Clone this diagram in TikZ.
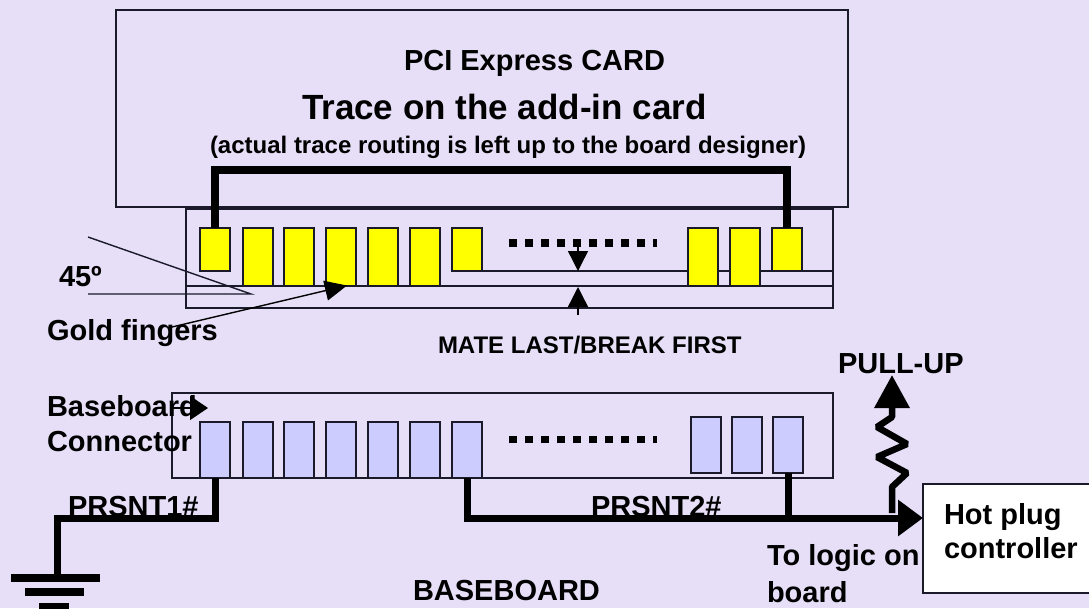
\documentclass[tikz,border=0pt]{standalone}
\usepackage{fontspec}
\setmainfont{Liberation Sans}
\usetikzlibrary{arrows.meta}
\definecolor{bgc}{HTML}{E6DFF7}
\definecolor{fingb}{HTML}{CCCCFF}
\definecolor{fingy}{RGB}{255,255,0}
\definecolor{edgec}{HTML}{1A1A2A}
\tikzset{
  boxr/.style={draw=edgec,line width=1.4pt,inner sep=0pt,outer sep=0pt,anchor=north west},
  yfing/.style={boxr,fill=fingy,line width=1.6pt},
  bfing/.style={boxr,fill=fingb,line width=1.6pt},
  wire/.style={line width=7pt,black},
  thin line/.style={draw=edgec,line width=1.4pt},
  lbl/.style={inner sep=0pt,outer sep=0pt,anchor=base west,font=\bfseries\fontsize{#1}{#1}\selectfont,text=black},
  bar/.style={fill=black,inner sep=0pt,outer sep=0pt,anchor=north west},
}
\begin{document}
\begin{tikzpicture}[x=1pt,y=-1pt]
\useasboundingbox (0,0) rectangle (1089,608);
\fill[bgc] (0,0) rectangle (1089,608);
% card and connector outlines
\node[boxr,minimum width=732pt,minimum height=197pt] (card) at (116,10) {};
\node[boxr,minimum width=647pt,minimum height=99pt] (edge) at (186,209) {};
\node[boxr,minimum width=661pt,minimum height=85pt] (conn) at (172,393) {};
% contact lines
\coordinate (la) at (481,271); \coordinate (lb) at (edge.east |- 0,271);
\coordinate (lc) at (edge.west |- 0,286); \coordinate (ld) at (edge.east |- 0,286);
\draw[thin line] (la) -- (lb);
\draw[thin line] (lc) -- (ld);
% yellow fingers
\foreach \n/\x/\h in {1/200/43,2/243/57.5,3/284/57.5,4/326/57.5,5/368/57.5,6/410/57.5,7/452/43,8/688/57.5,9/730/57.5,10/772/43}
  \node[yfing,minimum width=30pt,minimum height=\h pt] (y\n) at (\x,228) {};
% blue fingers
\foreach \n/\x in {1/200,2/243,3/284,4/326,5/368,6/410,7/452}
  \node[bfing,minimum width=30pt,minimum height=56pt] (b\n) at (\x,422) {};
\foreach \n/\x in {8/691,9/732,10/773}
  \node[bfing,minimum width=30pt,minimum height=56pt] (b\n) at (\x,417) {};
% dotted rows
\foreach \i in {0,...,8}{
  \fill[black] (509+16*\i,239) rectangle ++(8,7.5);
  \fill[black] (509+16*\i,443) rectangle ++(8,-7.5);
}
\fill[black] (653,239) rectangle (657,246.5);
\fill[black] (653,435.5) rectangle (657,443);
% trace
\draw[wire,line width=8pt,line join=miter] (y1.north) -- (y1.north |- 0,170) -| (y10.north);
% gap arrows
\coordinate (ga1) at (578,247); \coordinate (ga2) at (578,271);
\coordinate (gb1) at (578,315); \coordinate (gb2) at (578,287);
\draw[line width=1.4pt,-{Triangle[length=20pt,width=20pt]}] (ga1) -- (ga2);
\draw[line width=1.4pt,-{Triangle[length=20pt,width=20pt]}] (gb1) -- (gb2);
% angle
\coordinate (ang) at (251,294); \coordinate (anga) at (88,237); \coordinate (angb) at (88,294);
\draw[thin line] (anga) -- (ang) -- (angb);
% labels
\node[lbl=29] (t1) at (404,70) {PCI Express CARD};
\node[lbl=35] (t2) at (302,119) {Trace on the add-in card};
\node[lbl=24] (t3) at (210,153) {(actual trace routing is left up to the board designer)};
\node[lbl=29] (t4) at (59,286) {45º};
\node[lbl=29] (t5) at (47,340) {Gold fingers};
\node[lbl=24] (t6) at (438,353) {MATE LAST/BREAK FIRST};
\node[lbl=29] (t7) at (838,373) {PULL-UP};
\node[lbl=29] (t8) at (47,416) {Baseboard};
\node[lbl=29] (t9) at (47,451) {Connector};
\node[lbl=29] (t10) at (68,516) {PRSNT1\#};
\node[lbl=29] (t11) at (591,516) {PRSNT2\#};
\node[lbl=29] (t12) at (767,565) {To logic on};
\node[lbl=29] (t13) at (767,602) {board};
\node[lbl=29] (t14) at (413,600) {BASEBOARD};
% label arrows
\coordinate (ga) at (172,327); \coordinate (gb) at (347,285.5);
\draw[line width=1.4pt,-{Triangle[length=22pt,width=20pt]}] (ga) -- (gb);
\coordinate (ba) at (172,408); \coordinate (bb) at (208,408);
\draw[line width=1.4pt,-{Triangle[length=18pt,width=24pt]}] (ba) -- (bb);
% hot plug
\node[boxr,fill=white,minimum width=170pt,minimum height=109pt] (hot) at (923,484) {};
\node[lbl=29] (h1) at (944,524) {Hot plug};
\node[lbl=29] (h2) at (944,558) {controller};
% wires
\coordinate (g0) at (57,575);
\draw[wire,line cap=butt] (b1.south) -- (b1.south |- 0,518.5) -| (g0);
\node[bar,minimum width=89pt,minimum height=8pt] (g1) at (11,574) {};
\node[bar,minimum width=59pt,minimum height=8pt] (g2) at (25,588) {};
\node[bar,minimum width=30pt,minimum height=8pt] (g3) at (39,603) {};
\draw[wire,-{Triangle[length=25pt,width=35pt]}] (b7.south) -- (b7.south |- 0,518) -- (hot.west |- 0,518);
\draw[wire] (b10.south) -- (b10.south |- 0,518);
\coordinate (r0) at (892,513); \coordinate (r1) at (892,375);
\draw[wire,line width=6.5pt,line join=bevel,-{Triangle[length=33pt,width=34pt]}] (r0) -- (892,487) -- (907,473) -- (877,457) -- (907,444) -- (877,427) -- (892,417) -- (r1);
\end{tikzpicture}
\end{document}
